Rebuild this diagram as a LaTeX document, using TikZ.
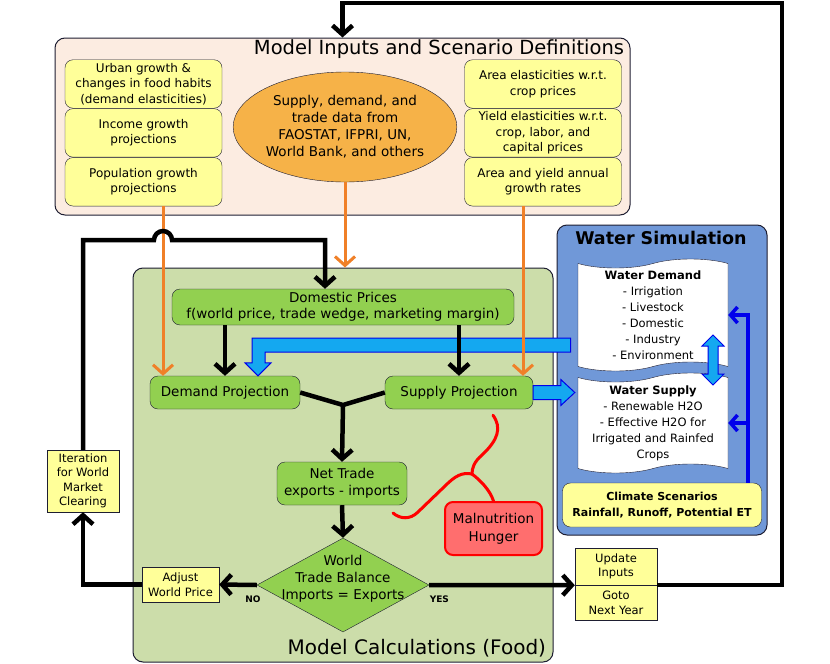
\documentclass[tikz,border=0pt]{standalone}
\usepackage{fontspec}
\setmainfont{DejaVu Sans}
\usetikzlibrary{shapes.geometric,shapes.symbols,shapes.arrows,arrows.meta,calc,positioning}

\definecolor{peach}{RGB}{252,236,225}
\definecolor{paleyellow}{RGB}{255,255,153}
\definecolor{datafill}{RGB}{246,178,72}
\definecolor{feedline}{RGB}{240,128,40}
\definecolor{foodbg}{RGB}{204,221,170}
\definecolor{leaf}{RGB}{146,208,80}
\definecolor{waterbg}{RGB}{112,152,216}
\definecolor{skyfill}{RGB}{20,168,240}
\definecolor{inkblue}{RGB}{0,0,235}
\definecolor{hungerfill}{RGB}{255,110,110}
\definecolor{frame}{RGB}{30,30,50}

\begin{document}
\begin{tikzpicture}[x=1pt,y=-1pt,
  panel/.style={draw=frame,line width=1pt,rounded corners=10pt,inner sep=0pt},
  inbox/.style={draw=frame,fill=paleyellow,rounded corners=8pt,align=center,
    minimum width=157pt,minimum height=48.5pt,inner sep=1pt,font=\fontsize{12}{15.5}\selectfont},
  calcbox/.style={draw=frame,fill=leaf,rounded corners=8pt,align=center,
    inner sep=2pt,font=\fontsize{13.5}{17}\selectfont},
  notebox/.style={draw=frame,fill=paleyellow,align=center,inner sep=1pt,
    font=\fontsize{11.5}{14.5}\selectfont},
  sheet/.style={tape,draw=frame,fill=white,align=center,minimum width=150pt,
    tape bend height=9pt,inner sep=1pt,font=\fontsize{11.5}{16}\selectfont},
  title/.style={font=\fontsize{19.5}{22}\selectfont},
  tag/.style={font=\bfseries\fontsize{9}{10}\selectfont},
  flow/.style={line width=4.5pt,-{Straight Barb[length=9pt,width=20pt]}},
  feed/.style={feedline,line width=3pt,-{Straight Barb[length=9pt,width=20pt]}},
  signal/.style={inkblue,line width=3.5pt,-{Straight Barb[length=7pt,width=16pt]}},
  fatarrow/.style={draw=inkblue,fill=skyfill,line width=1pt},
  hungerline/.style={red,line width=3pt,line cap=round}]

\fill[white] (0,0) rectangle (830,664);
\useasboundingbox (0,0) rectangle (830,664);

% inputs
\node[panel,fill=peach,minimum width=575pt,minimum height=177pt] (inputs) at (342.5,126.5) {};
\node[title,anchor=east] (inputstitle) at ([xshift=-3pt,yshift=-12pt]inputs.north east) {Model Inputs and Scenario Definitions};
\node[inbox] (urban) at (143.5,84) {Urban growth \&\\changes in food habits\\(demand elasticities)};
\node[inbox,below=0pt of urban] (income) {Income growth\\projections};
\node[inbox,below=0pt of income] (popul) {Population growth\\projections};
\node[inbox] (areael) at (543,84) {Area elasticities w.r.t.\\crop prices};
\node[inbox,below=0pt of areael] (yieldel) {Yield elasticities w.r.t.\\crop, labor, and\\capital prices};
\node[inbox,below=0pt of yieldel] (growth) {Area and yield annual\\growth rates};
\node[ellipse,draw=frame,fill=datafill,minimum width=216pt,minimum height=110pt,inner sep=0pt,
  align=center,font=\fontsize{13.5}{17}\selectfont] (faodata) at (345,127)
  {Supply, demand, and\\trade data from\\FAOSTAT, IFPRI, UN,\\World Bank, and others};

% food model
\node[panel,fill=foodbg,minimum width=420pt,minimum height=394pt] (food) at (343,465) {};
\node[title,font=\fontsize{20}{22}\selectfont,anchor=east] (foodtitle) at ([xshift=-4pt,yshift=14pt]food.south east) {Model Calculations (Food)};
\node[calcbox,minimum width=342pt,minimum height=36pt,font=\fontsize{13.5}{16}\selectfont] (domestic) at (343,307)
  {Domestic Prices\\f(world price, trade wedge, marketing margin)};
\node[calcbox,minimum width=150pt,minimum height=33pt] (demand) at (225,392.5) {Demand Projection};
\node[calcbox,minimum width=148pt,minimum height=33pt] (supply) at (459,392.5) {Supply Projection};
\node[calcbox,minimum width=130pt,minimum height=43pt] (nettrade) at (342,483.5) {Net Trade\\exports - imports};
\node[diamond,draw=frame,fill=leaf,minimum width=172pt,minimum height=94pt,inner sep=0pt] (balance) at (343,585) {};
\node[align=center,font=\fontsize{13.5}{17}\selectfont] (balancetext) at ([yshift=6pt]balance.center)
  {World\\Trade Balance\\Imports = Exports};
\node[draw=red,line width=2pt,fill=hungerfill,rounded corners=8pt,minimum width=97pt,minimum height=53pt,
  align=center,font=\fontsize{13.5}{18}\selectfont] (hunger) at (493.5,528.5) {Malnutrition\\Hunger};

\node[notebox,minimum width=77pt,minimum height=35pt] (adjust) at (180.5,584.5) {Adjust\\World Price};
\node[notebox,minimum width=72pt,minimum height=62pt] (iterate) at (83,481) {Iteration\\for World\\Market\\Clearing};
\node[notebox,minimum width=82pt,minimum height=37pt] (update) at (616,566.5) {Update\\Inputs};
\node[notebox,minimum width=82pt,minimum height=35pt,below=0pt of update] (nextyear) {Goto\\Next Year};

% water
\node[panel,fill=waterbg,minimum width=210pt,minimum height=310pt] (wsim) at (662,380) {};
\node[font=\bfseries\fontsize{17.5}{20}\selectfont] (wsimtitle) at (661,238) {Water Simulation};
\node[sheet,minimum height=112pt] (wdemand) at (653,315)
  {\textbf{Water Demand}\\- Irrigation\\- Livestock\\- Domestic\\- Industry\\- Environment};
\node[sheet,minimum height=100pt] (wsupply) at (653,423)
  {\textbf{Water Supply}\\- Renewable H2O\\- Effective H2O for\\Irrigated and Rainfed\\Crops};
\node[inbox,minimum width=199pt,minimum height=44pt,font=\bfseries\fontsize{11}{16}\selectfont] (climate) at (662,505)
  {Climate Scenarios\\Rainfall, Runoff, Potential ET};
\node[double arrow,draw=inkblue,fill=skyfill,line width=1pt,rotate=90,minimum height=50pt,
  minimum width=0pt,inner sep=4.5pt,double arrow head extend=6pt] (exchange) at (713,360) {};

\coordinate (cfeed) at ([xshift=86pt]climate.north);
\draw[signal] (cfeed) |- (wdemand.east);
\draw[signal] (cfeed) |- (wsupply.east);

% fat blue arrows
\coordinate (bandend) at ([xshift=14pt,yshift=35pt]wsim.west);
\coordinate (tipA) at ([xshift=33pt]demand.north);
\draw[fatarrow] (tipA) -- ++(13,-13) -- ++(-6,0) |- ([yshift=-7pt]bandend) -- ([yshift=7pt]bandend)
  -| ([xshift=-6pt,yshift=13pt]tipA) -- ++(-7,0) -- cycle;
\path (wsupply.west |- supply.east) ++(-3,0) coordinate (tipB);
\draw[fatarrow] ([yshift=7pt]supply.east) -| ([xshift=-14pt,yshift=13pt]tipB) -- (tipB) -- ++(-14,13)
  |- ([yshift=-7pt]supply.east) -- cycle;

% orange inputs
\draw[feed] (popul.south) ++(19.5,0) coordinate (f1) -- (f1 |- demand.north);
\draw[feed] (faodata.south) -- (faodata.south |- food.north);
\draw[feed] (growth.south) ++(-20,0) coordinate (f3) -- (f3 |- supply.north);

% black flow
\coordinate (merge) at (343,405);
\draw[flow] (demand.north |- domestic.south) -- (demand.north);
\draw[flow] (supply.north |- domestic.south) -- (supply.north);
\draw[line width=4.5pt] (demand.east) -- (merge) -- (supply.west);
\draw[flow] (merge) -- (nettrade.north);
\draw[flow] (nettrade.south) -- (balance.north);
\draw[flow] (balance.west) -- node[pos=0.1,below=5pt,tag] {NO} (adjust.east);
\draw[flow] (balance.east) -- node[pos=0.07,below=5pt,tag] {YES} (update.south west);
\draw[flow] (adjust.west) -| (iterate.south);
\coordinate (hop) at (f1 |- 0,240);
\coordinate (domtop) at ([xshift=-18pt]domestic.north);
\draw[flow] (iterate.north) |- ([xshift=-9pt]hop) arc[start angle=180,end angle=360,radius=9] -| (domtop);
\coordinate (loopturn) at (782,3);
\draw[flow] (update.south east) -| (loopturn) -| (inputs.north);

% hunger link
\coordinate (rtop) at ([xshift=34pt,yshift=-6pt]supply.south);
\coordinate (rjoin) at (472,474);
\coordinate (rend) at (393,513);
\draw[hungerline] (rtop) .. controls (502,428) and (498,440) .. (482,455)
  .. controls (474,462) and (472,468) .. (rjoin);
\draw[hungerline] (rjoin) .. controls (462,472) and (455,476) .. (445,486) -- (418,512)
  .. controls (410,520) and (400,519) .. (rend);
\draw[hungerline] (rjoin) .. controls (480,480) and (490,490) .. (hunger.north);
\end{tikzpicture}
\end{document}
